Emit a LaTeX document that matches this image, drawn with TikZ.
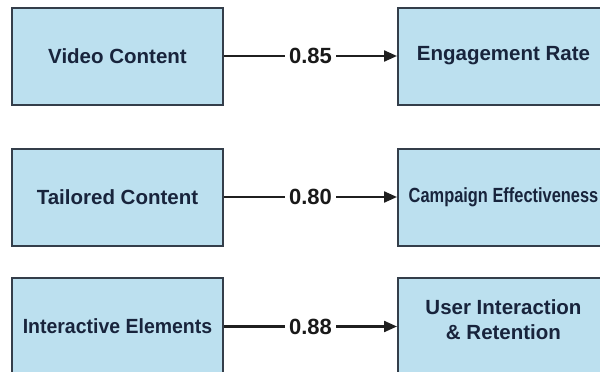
\documentclass[tikz,border=0pt]{standalone}
\usepackage{fontspec}
\usepackage{graphicx}
\setmainfont{Liberation Sans}
\usetikzlibrary{arrows.meta}
\definecolor{boxfill}{HTML}{BCE0EF}
\definecolor{boxline}{HTML}{343E4A}
\definecolor{boxtext}{HTML}{18243C}
\begin{document}
\begin{tikzpicture}[x=1pt,y=-1pt,
  box/.style={draw=boxline, line width=2pt, fill=boxfill, minimum width=211pt,
    minimum height=97pt, inner sep=0pt, text=boxtext,
    font=\fontsize{20.5}{25}\selectfont\bfseries, align=center},
  link/.style={draw=black!88, line width=2.2pt, -{Triangle[length=13pt,width=11pt]}},
  wt/.style={fill=white, inner xsep=4pt, inner ysep=2pt,
    font=\fontsize{22}{26}\selectfont\bfseries, text=black!90}]
\useasboundingbox (0,0) rectangle (600,372);
\node[box] (l1) at (117.5,56) {Video Content};
\node[box] (r1) at (503.5,56) {Engagement Rate};
\node[box] (l2) at (117.5,197) {Tailored Content};
\node[box] (r2) at (503.5,197) {\scalebox{0.8}[1]{Campaign Effectiveness}};
\node[box] (l3) at (117.5,326.5) {\scalebox{0.95}[1]{Interactive Elements}};
\node[box] (r3) at (503.5,326.5) {\raisebox{5pt}[\height][\depth]{\begin{tabular}{@{}c@{}}User Interaction\\ \& Retention\end{tabular}}};
\draw[link] (l1) -- node[wt]{0.85} (r1);
\draw[link] (l2) -- node[wt]{0.80} (r2);
\draw[link] (l3) -- node[wt]{0.88} (r3);
\end{tikzpicture}
\end{document}
